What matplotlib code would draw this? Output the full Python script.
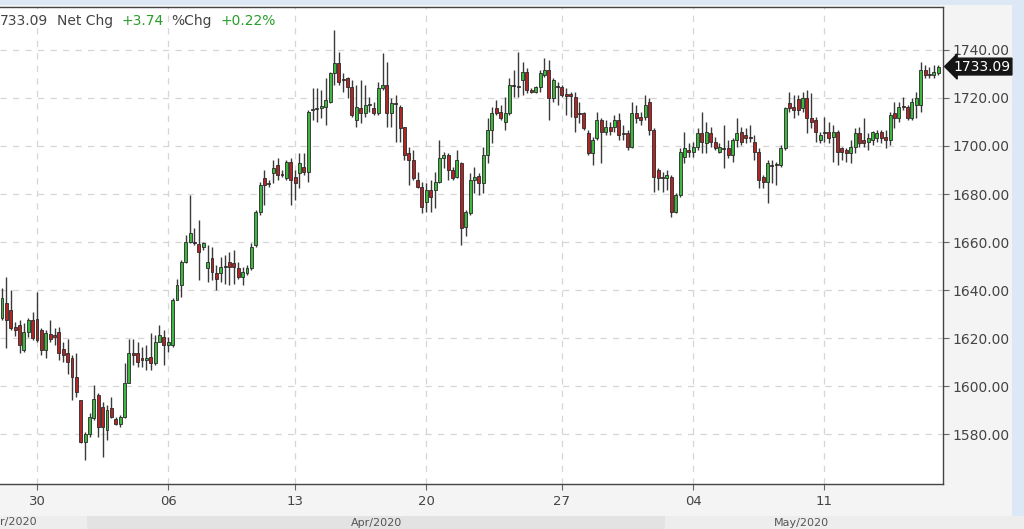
import matplotlib
matplotlib.use("Agg")
import matplotlib.pyplot as plt
from matplotlib.patches import Rectangle
from matplotlib.transforms import blended_transform_factory
import numpy as np

# ---------------- data ----------------
opens = [1628.2, 1634.4, 1631.6, 1624.7, 1625.4, 1615.0, 1622.6, 1627.7, 1627.8, 1623.3,
         1615.0, 1621.5, 1621.2, 1622.6, 1615.4, 1613.6, 1611.5, 1603.9, 1594.1, 1576.8,
         1580.2, 1586.5, 1596.2, 1591.4, 1581.6, 1590.7, 1586.2, 1584.4, 1587.2, 1601.1,
         1613.6, 1613.6, 1611.5, 1610.8, 1612.2, 1609.4, 1618.4, 1620.5, 1617.1, 1617.1,
         1635.8, 1642.1, 1651.8, 1660.1, 1660.0, 1659.0, 1658.0, 1649.0, 1653.2, 1647.2,
         1646.9, 1649.7, 1651.8, 1651.1, 1649.0, 1645.5, 1647.0, 1649.0, 1658.7, 1672.6,
         1686.5, 1684.2, 1688.6, 1692.1, 1688.2, 1686.5, 1693.4, 1687.2, 1688.6, 1691.4,
         1689.3, 1715.0, 1715.3, 1716.0, 1716.4, 1718.5, 1730.3, 1734.4, 1728.0, 1728.2,
         1724.7, 1710.8, 1715.7, 1713.6, 1717.1, 1715.7, 1713.6, 1724.0, 1725.4, 1713.6,
         1717.8, 1716.4, 1708.1, 1697.0, 1694.2, 1685.8, 1683.1, 1676.8, 1681.7, 1681.7,
         1685.1, 1694.9, 1696.3, 1690.0, 1687.2, 1692.8, 1666.4, 1672.0, 1685.8, 1687.5,
         1684.4, 1696.3, 1706.7, 1715.7, 1714.3, 1710.2, 1713.6, 1725.4, 1724.4, 1727.5,
         1731.0, 1723.3, 1722.6, 1724.7, 1729.6, 1731.7, 1719.9, 1725.0, 1724.7, 1721.5,
         1721.5, 1720.6, 1713.6, 1713.6, 1705.3, 1697.0, 1703.2, 1710.8, 1706.0, 1708.1,
         1708.1, 1710.8, 1705.0, 1705.3, 1699.7, 1713.6, 1712.2, 1712.2, 1718.5, 1706.7,
         1690.0, 1687.2, 1686.5, 1687.2, 1672.6, 1679.6, 1695.6, 1698.3, 1697.6, 1699.7,
         1705.3, 1701.1, 1705.3, 1701.8, 1697.6, 1699.0, 1699.0, 1696.3, 1702.5, 1706.0,
         1704.6, 1703.9, 1701.8, 1697.6, 1687.2, 1685.1, 1692.1, 1692.0, 1692.1, 1699.0,
         1717.8, 1716.4, 1719.4, 1715.7, 1719.9, 1711.5, 1710.8, 1702.5, 1706.0, 1706.0,
         1703.9, 1706.0, 1699.0, 1698.3, 1696.9, 1699.7, 1705.3, 1702.5, 1701.8, 1702.5,
         1703.2, 1706.0, 1703.9, 1702.5, 1713.6, 1711.5, 1716.4, 1716.4, 1711.5, 1717.1,
         1717.1, 1731.7, 1730.0, 1729.6, 1730.3]
highs = [1640.7, 1645.5, 1640.0, 1626.5, 1627.5, 1626.1, 1628.2, 1631.0, 1639.3, 1624.0,
         1623.3, 1627.5, 1624.0, 1624.7, 1618.4, 1619.8, 1612.9, 1613.6, 1594.1, 1580.9,
         1588.6, 1600.4, 1596.9, 1593.4, 1592.1, 1595.5, 1587.2, 1588.0, 1609.4, 1619.8,
         1619.8, 1618.4, 1616.4, 1617.1, 1622.0, 1621.2, 1625.4, 1623.3, 1620.5, 1636.5,
         1644.8, 1652.5, 1662.9, 1679.6, 1665.7, 1669.1, 1660.0, 1658.7, 1658.0, 1650.4,
         1653.9, 1654.6, 1655.9, 1656.6, 1651.8, 1649.7, 1650.4, 1659.4, 1673.3, 1685.1,
         1690.0, 1686.0, 1694.1, 1694.8, 1690.0, 1694.1, 1694.8, 1690.0, 1696.9, 1696.9,
         1715.0, 1724.0, 1724.0, 1723.3, 1728.2, 1731.0, 1748.3, 1739.3, 1730.3, 1728.9,
         1727.5, 1725.4, 1727.5, 1725.4, 1720.6, 1718.5, 1726.8, 1738.6, 1735.1, 1719.9,
         1721.3, 1717.1, 1708.1, 1699.7, 1698.3, 1689.3, 1685.1, 1684.4, 1685.8, 1689.3,
         1702.5, 1697.6, 1697.0, 1691.4, 1698.3, 1693.5, 1673.3, 1688.6, 1691.4, 1688.6,
         1699.7, 1711.5, 1716.4, 1719.2, 1717.1, 1720.6, 1728.2, 1731.7, 1739.3, 1735.1,
         1732.4, 1724.0, 1725.0, 1731.7, 1736.5, 1735.8, 1728.2, 1726.8, 1725.4, 1724.0,
         1722.6, 1722.6, 1718.5, 1714.3, 1706.7, 1703.9, 1714.3, 1711.5, 1710.8, 1710.1,
         1712.9, 1713.6, 1708.8, 1706.7, 1718.5, 1717.1, 1714.3, 1721.3, 1719.9, 1707.4,
         1690.7, 1689.3, 1690.0, 1687.9, 1680.3, 1699.0, 1706.0, 1701.1, 1701.8, 1707.4,
         1714.3, 1710.1, 1708.1, 1703.9, 1701.1, 1708.8, 1702.5, 1703.2, 1711.5, 1708.1,
         1707.4, 1708.8, 1704.6, 1699.0, 1687.9, 1694.2, 1694.2, 1693.5, 1700.4, 1716.4,
         1722.6, 1721.3, 1721.3, 1722.6, 1723.3, 1721.9, 1712.2, 1706.0, 1712.2, 1710.1,
         1708.8, 1706.7, 1699.7, 1699.0, 1702.5, 1707.4, 1708.1, 1711.5, 1705.3, 1706.2,
         1706.7, 1706.7, 1706.7, 1714.3, 1718.5, 1718.5, 1720.6, 1717.1, 1719.9, 1722.6,
         1735.1, 1733.8, 1733.1, 1733.8, 1733.8]
lows = [1627.5, 1615.7, 1623.3, 1621.0, 1613.6, 1614.3, 1620.5, 1619.0, 1618.4, 1612.9,
        1611.5, 1618.4, 1617.1, 1610.8, 1610.1, 1605.2, 1594.1, 1595.5, 1576.1, 1569.1,
        1578.9, 1585.8, 1578.9, 1570.5, 1577.5, 1586.5, 1583.7, 1583.0, 1586.5, 1601.1,
        1608.7, 1608.0, 1608.0, 1606.6, 1606.6, 1608.7, 1618.4, 1608.7, 1614.3, 1616.4,
        1635.8, 1637.2, 1651.1, 1659.5, 1658.7, 1644.1, 1656.5, 1643.4, 1644.1, 1640.0,
        1643.4, 1642.7, 1642.1, 1642.7, 1644.8, 1642.1, 1646.2, 1648.3, 1658.0, 1671.2,
        1675.4, 1683.0, 1684.4, 1685.8, 1687.0, 1685.8, 1675.4, 1677.5, 1682.4, 1687.9,
        1685.1, 1710.8, 1710.1, 1711.5, 1708.8, 1717.8, 1725.4, 1725.4, 1722.6, 1719.9,
        1712.2, 1708.1, 1709.4, 1712.2, 1714.3, 1712.9, 1712.9, 1723.3, 1708.1, 1708.1,
        1701.8, 1701.8, 1694.2, 1683.8, 1685.8, 1682.4, 1671.9, 1672.6, 1672.6, 1674.0,
        1684.4, 1690.7, 1685.8, 1686.0, 1686.5, 1658.8, 1662.3, 1671.2, 1680.3, 1679.6,
        1680.3, 1692.8, 1701.1, 1712.9, 1710.8, 1706.7, 1712.9, 1720.6, 1720.6, 1721.3,
        1722.0, 1721.9, 1722.0, 1722.6, 1728.9, 1710.8, 1718.5, 1717.1, 1720.6, 1712.9,
        1712.2, 1706.0, 1709.4, 1706.7, 1696.3, 1692.1, 1702.5, 1692.8, 1704.6, 1704.6,
        1706.0, 1702.5, 1702.5, 1698.3, 1699.0, 1709.4, 1708.8, 1710.8, 1704.6, 1681.0,
        1681.7, 1681.0, 1681.7, 1670.6, 1671.9, 1678.9, 1692.8, 1695.6, 1695.6, 1698.3,
        1696.9, 1696.9, 1699.7, 1698.3, 1696.9, 1690.7, 1694.9, 1693.5, 1699.7, 1700.4,
        1701.1, 1701.8, 1694.2, 1682.4, 1682.4, 1676.1, 1684.4, 1683.8, 1691.4, 1698.3,
        1714.3, 1711.5, 1712.9, 1714.3, 1705.3, 1707.4, 1701.8, 1701.1, 1701.8, 1701.1,
        1693.5, 1692.1, 1694.2, 1693.5, 1692.8, 1696.9, 1699.7, 1699.7, 1698.3, 1700.4,
        1701.8, 1701.1, 1699.0, 1700.4, 1707.4, 1710.1, 1715.0, 1711.0, 1710.8, 1711.5,
        1714.3, 1728.2, 1728.2, 1728.2, 1729.6]
closes = [1636.5, 1627.5, 1624.0, 1623.3, 1617.1, 1622.6, 1627.5, 1620.0, 1619.1, 1615.0,
          1621.9, 1619.8, 1620.6, 1613.6, 1612.9, 1610.1, 1603.9, 1597.6, 1576.8, 1580.2,
          1587.2, 1594.8, 1583.0, 1583.0, 1590.0, 1587.2, 1584.4, 1587.2, 1601.1, 1613.6,
          1612.9, 1610.1, 1610.8, 1611.5, 1609.4, 1618.4, 1621.2, 1617.1, 1618.4, 1635.8,
          1642.1, 1651.8, 1660.1, 1663.6, 1659.5, 1656.0, 1659.4, 1651.8, 1647.6, 1644.8,
          1649.7, 1650.2, 1649.7, 1649.7, 1645.5, 1647.6, 1649.0, 1658.0, 1672.6, 1683.7,
          1683.7, 1684.4, 1690.7, 1687.9, 1687.9, 1693.4, 1685.8, 1684.4, 1692.8, 1689.3,
          1714.3, 1715.6, 1716.0, 1716.6, 1719.2, 1730.3, 1734.4, 1726.8, 1727.3, 1724.7,
          1712.9, 1716.4, 1713.6, 1717.1, 1717.4, 1713.6, 1724.0, 1725.4, 1713.6, 1717.8,
          1717.3, 1707.4, 1696.3, 1694.2, 1686.5, 1683.1, 1674.7, 1681.7, 1678.9, 1685.1,
          1694.9, 1696.3, 1690.0, 1686.5, 1694.2, 1665.7, 1672.6, 1685.8, 1687.2, 1684.4,
          1696.3, 1706.7, 1713.6, 1713.6, 1711.5, 1713.6, 1725.4, 1725.0, 1724.8, 1731.0,
          1723.3, 1722.6, 1724.7, 1730.3, 1731.7, 1719.9, 1727.5, 1724.6, 1721.2, 1721.0,
          1721.0, 1712.2, 1713.4, 1707.4, 1697.0, 1702.5, 1710.8, 1705.9, 1708.1, 1706.2,
          1710.8, 1704.6, 1705.3, 1699.7, 1713.6, 1711.5, 1710.8, 1717.1, 1706.7, 1687.2,
          1686.5, 1686.6, 1687.9, 1672.6, 1679.6, 1697.6, 1699.0, 1697.6, 1699.7, 1705.3,
          1701.8, 1706.0, 1701.8, 1699.0, 1699.7, 1698.6, 1696.3, 1702.5, 1705.3, 1701.8,
          1703.2, 1703.2, 1697.6, 1685.8, 1685.1, 1692.8, 1691.7, 1691.9, 1699.0, 1715.7,
          1715.7, 1715.0, 1715.0, 1719.9, 1711.5, 1710.1, 1706.0, 1704.6, 1705.5, 1703.2,
          1706.0, 1697.6, 1697.6, 1697.0, 1699.7, 1705.3, 1701.1, 1701.1, 1703.2, 1706.0,
          1705.3, 1703.2, 1702.5, 1712.9, 1711.5, 1716.4, 1716.1, 1711.5, 1718.5, 1719.9,
          1731.7, 1729.6, 1729.6, 1731.0, 1733.09]

date_labels = ["30", "06", "13", "20", "27", "04", "11"]
date_candles = [8, 38, 67, 97, 128, 158, 188]      # candle where each date begins
month_labels = ["r/2020", "Apr/2020", "May/2020"]
month_first_candle = [0, 20, 152]
price_ticks = [1580, 1600, 1620, 1640, 1660, 1680, 1700, 1720, 1740]
last_price = 1733.09
head_parts = ["733.09", "Net Chg", "+3.74", "%Chg", "+0.22%"]

# ---------------- style ----------------
W, H = 1024, 529
BLUE = "#dce8f5"
PANEL = "#f4f4f4"
GREEN = "#3cb93c"
RED = "#b02525"
EDGE = "#2a2a2a"
TXT = "#444444"
GTXT = "#2a9d2a"

plt.rcParams["font.family"] = ["DejaVu Sans"]

fig = plt.figure(figsize=(W / 100, H / 100), dpi=100, facecolor=BLUE)
fig.add_artist(Rectangle((0, 0), 1012 / W, 524 / H, transform=fig.transFigure,
                         facecolor=PANEL, edgecolor="none", zorder=0))

ax = fig.add_axes([0, 1 - 484 / H, 943 / W, 477 / H])
ax.set_facecolor("white")

o = np.array(opens); h = np.array(highs); l = np.array(lows); c = np.array(closes)
x = np.arange(len(o))
lo = np.minimum(l, np.minimum(o, c))
hi = np.maximum(h, np.maximum(o, c))
ax.vlines(x, lo, hi, color="#3a3a3a", linewidth=1.0, zorder=2)
up = c >= o
body_bottom = np.minimum(o, c)
body_h = np.maximum(np.abs(c - o), 0.45)
ax.bar(x, body_h, bottom=body_bottom, width=0.68,
       color=np.where(up, GREEN, RED), edgecolor=EDGE, linewidth=0.6, zorder=3)

ax.set_xlim(-0.46, len(o) + 0.1)
ax.set_ylim(1559.2, 1757.9)

ax.set_yticks(price_ticks)
ax.set_yticklabels([f"{v:.2f}" for v in price_ticks])
ax.yaxis.tick_right()
ax.tick_params(axis="y", which="both", left=False, right=True, direction="out",
               length=4, width=0.8, color="#666666", labelcolor=TXT, labelsize=10, pad=3)
ax.set_xticks(date_candles)
ax.set_xticklabels(date_labels)
ax.tick_params(axis="x", direction="out", length=4, width=0.8, color="#666666",
               labelcolor=TXT, labelsize=9.5, pad=4)

ax.grid(True, color="#d6d6d6", linestyle=(0, (5, 5)), linewidth=0.9, zorder=0)
ax.set_axisbelow(True)
ax.spines["left"].set_visible(False)
for s in ("top", "right", "bottom"):
    ax.spines[s].set_color("#444444")
    ax.spines[s].set_linewidth(1.0)

# header text (mixed colours)
colors = [TXT, TXT, GTXT, TXT, GTXT]
t = ax.text(0.0, 1 - 14 / 477, head_parts[0], transform=ax.transAxes,
            ha="left", va="center", fontsize=10, color=colors[0], zorder=6)
for part, col in zip(head_parts[1:], colors[1:]):
    t = ax.annotate(part, xy=(1, 0.5), xycoords=t, xytext=(6, 0),
                    textcoords="offset points", ha="left", va="center",
                    fontsize=10, color=col, zorder=6)

# last price tag
ytrans = blended_transform_factory(ax.transAxes, ax.transData)
ax.text(1.011, last_price, f"{last_price:.2f}", transform=ytrans, ha="left", va="center",
        color="white", fontsize=10, clip_on=False, zorder=10,
        bbox=dict(boxstyle="larrow,pad=0.1", facecolor="#151515", edgecolor="#151515"))

# month bands at the bottom
btrans = blended_transform_factory(ax.transData, fig.transFigure)
band_edges = [m - 0.5 for m in month_first_candle] + [len(o) + 40]
band_edges[0] = -40
band_cols = ["#ededed", "#e3e3e3", "#ededed"]
for i in range(len(month_labels)):
    ax.add_artist(Rectangle((band_edges[i], 0), band_edges[i + 1] - band_edges[i], 13 / H,
                            transform=btrans, facecolor=band_cols[i], edgecolor="none",
                            clip_on=False, zorder=1))
ax.text(-0.46, 1.5 / H, month_labels[0], transform=btrans, ha="left", va="bottom",
        fontsize=8, color="#555555", clip_on=False)
for i in (1, 2):
    right = min(band_edges[i + 1], len(o) - 1)
    ax.text((band_edges[i] + right) / 2, 1.5 / H, month_labels[i], transform=btrans,
            ha="center", va="bottom", fontsize=8, color="#555555", clip_on=False)

fig.savefig("out.png", dpi=100, facecolor=fig.get_facecolor())
